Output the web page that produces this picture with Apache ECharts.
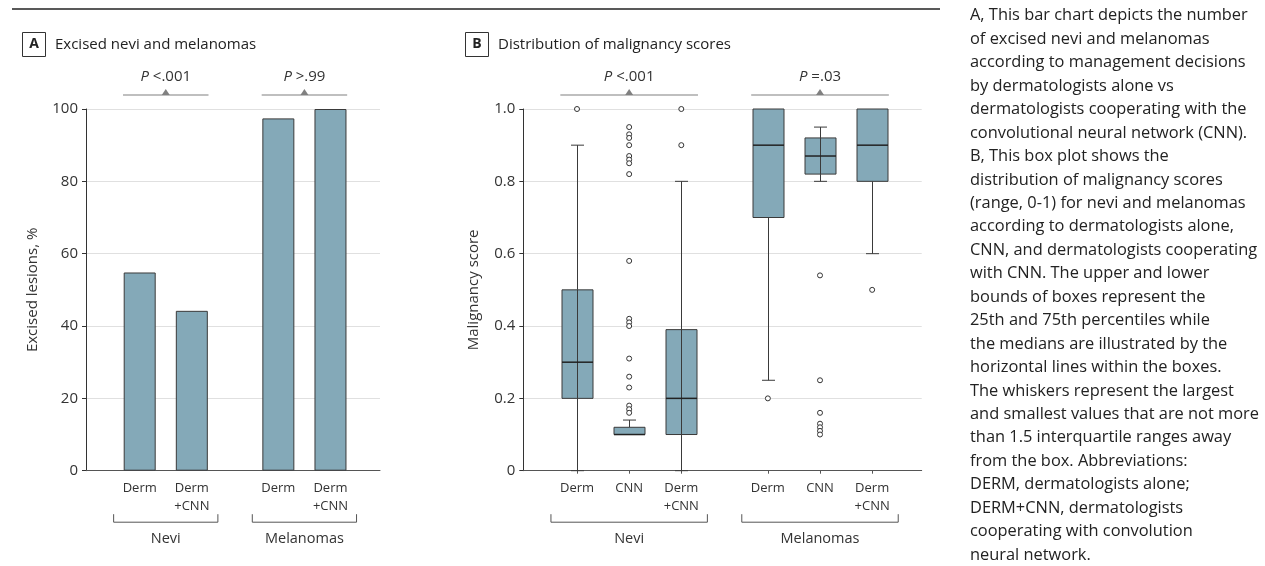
<!DOCTYPE html>
<html lang="en">
<head>
  <meta charset="UTF-8">
  <title>Excised nevi and melanomas</title>
  <script src="https://cdn.jsdelivr.net/npm/echarts@6.0.0/dist/echarts.min.js"></script>
  <style>
    html, body {
      margin: 0;
      padding: 0;
      background: #fff;
    }

    #main {
      width: 1265px;
      height: 566px;
    }
  </style>
</head>
<body>
  <div id="main"></div>

  <script type="text/javascript">
    // ---- data ----
    var groups = ['Nevi', 'Melanomas'];
    var barCategories = ['Derm', 'Derm\n+CNN'];
    var boxCategories = ['Derm', 'CNN', 'Derm\n+CNN'];

    // panel A: excised lesions, %
    var excisedNevi = [54.8, 44.2];
    var excisedMelanomas = [97.4, 100];

    // panel B: [min, Q1, median, Q3, max]
    var neviBoxes = [
      [0, 0.2, 0.3, 0.5, 0.9],
      [0.1, 0.1, 0.1, 0.12, 0.14],
      [0, 0.1, 0.2, 0.39, 0.8]
    ];
    var melanomaBoxes = [
      [0.25, 0.7, 0.9, 1.0, 1.0],
      [0.8, 0.82, 0.87, 0.92, 0.95],
      [0.6, 0.8, 0.9, 1.0, 1.0]
    ];
    var neviOutliers = [
      [1.0],
      [0.95, 0.93, 0.92, 0.90, 0.87, 0.86, 0.85, 0.82, 0.58, 0.42, 0.41, 0.40, 0.31, 0.26, 0.23, 0.18, 0.17, 0.16],
      [1.0, 0.9]
    ];
    var melanomaOutliers = [
      [0.2],
      [0.54, 0.25, 0.16, 0.13, 0.12, 0.11, 0.10],
      [0.5]
    ];

    var pValuesA = ['<.001', '>.99'];
    var pValuesB = ['<.001', '=.03'];

    var captionLines = [
      'A, This bar chart depicts the number',
      'of excised nevi and melanomas',
      'according to management decisions',
      'by dermatologists alone vs',
      'dermatologists cooperating with the',
      'convolutional neural network (CNN).',
      'B, This box plot shows the',
      'distribution of malignancy scores',
      '(range, 0-1) for nevi and melanomas',
      'according to dermatologists alone,',
      'CNN, and dermatologists cooperating',
      'with CNN. The upper and lower',
      'bounds of boxes represent the',
      '25th and 75th percentiles while',
      'the medians are illustrated by the',
      'horizontal lines within the boxes.',
      'The whiskers represent the largest',
      'and smallest values that are not more',
      'than 1.5 interquartile ranges away',
      'from the box. Abbreviations:',
      'DERM, dermatologists alone;',
      'DERM+CNN, dermatologists',
      'cooperating with convolution',
      'neural network.'
    ];

    // ---- layout / style ----
    var FONT = '"Open Sans", "Noto Sans", sans-serif';
    var FILL = '#84a9b8';
    var EDGE = '#3a3a3a';
    var TEXT = '#333';
    var GROUP_GAP = 1.66;   // extra space between groups, in category steps
    var BOX_W = 31;
    var CAP_W = 13;

    // x position of category i in group g
    function slot(g, i, n) {
      return g * (n - 1 + GROUP_GAP) + i;
    }

    function positions(n) {
      var out = [];
      groups.forEach(function (_, g) {
        for (var i = 0; i < n; i++) out.push(slot(g, i, n));
      });
      return out;
    }

    var posA = positions(barCategories.length);
    var posB = positions(boxCategories.length);
    var labelsA = barCategories.concat(barCategories);
    var labelsB = boxCategories.concat(boxCategories);

    function labelFor(pos, labels) {
      return function (v) {
        for (var k = 0; k < pos.length; k++) {
          if (Math.abs(pos[k] - v) < 1e-6) return labels[k];
        }
        return '';
      };
    }

    function groupSpans(n) {
      return groups.map(function (_, g) {
        return [slot(g, 0, n), slot(g, n - 1, n), 0];
      });
    }

    // ---- series data built from the arrays ----
    var barData = [];
    [excisedNevi, excisedMelanomas].forEach(function (vals, g) {
      vals.forEach(function (v, i) {
        barData.push([slot(g, i, barCategories.length), v]);
      });
    });

    var boxData = [];
    var outlierData = [];
    [neviBoxes, melanomaBoxes].forEach(function (boxes, g) {
      boxes.forEach(function (b, i) {
        boxData.push([slot(g, i, boxCategories.length)].concat(b));
      });
    });
    [neviOutliers, melanomaOutliers].forEach(function (lists, g) {
      lists.forEach(function (list, i) {
        list.forEach(function (v) {
          outlierData.push([slot(g, i, boxCategories.length), v]);
        });
      });
    });

    function renderBox(params, api) {
      var x = api.value(0);
      var lo = api.coord([x, api.value(1)]);
      var q1 = api.coord([x, api.value(2)]);
      var md = api.coord([x, api.value(3)]);
      var q3 = api.coord([x, api.value(4)]);
      var hi = api.coord([x, api.value(5)]);
      var cx = Math.round(lo[0]) + 0.5;
      var h = BOX_W / 2, c = CAP_W / 2;
      var lineStyle = { stroke: EDGE, lineWidth: 1 };
      var hasLo = api.value(1) < api.value(2);
      var hasHi = api.value(5) > api.value(4);
      var kids = [];

      if (hasLo) {
        kids.push({ type: 'line', shape: { x1: cx, y1: q1[1], x2: cx, y2: lo[1] }, style: lineStyle });
        kids.push({ type: 'line', shape: { x1: cx - c, y1: lo[1], x2: cx + c, y2: lo[1] }, style: lineStyle });
      }
      if (hasHi) {
        kids.push({ type: 'line', shape: { x1: cx, y1: q3[1], x2: cx, y2: hi[1] }, style: lineStyle });
        kids.push({ type: 'line', shape: { x1: cx - c, y1: hi[1], x2: cx + c, y2: hi[1] }, style: lineStyle });
      }
      kids.push({
        type: 'rect',
        shape: { x: cx - h, y: q3[1], width: BOX_W, height: q1[1] - q3[1] },
        style: { fill: FILL, stroke: EDGE, lineWidth: 1 }
      });
      if (hasLo && hasHi) {
        kids.push({ type: 'line', shape: { x1: cx, y1: q3[1], x2: cx, y2: q1[1] }, style: lineStyle });
      }
      kids.push({
        type: 'line',
        shape: { x1: cx - h, y1: md[1], x2: cx + h, y2: md[1] },
        style: { stroke: '#222', lineWidth: 1.5 }
      });
      return { type: 'group', children: kids };
    }

    // P value marker above each group
    function pValueRenderer(texts) {
      return function (params, api) {
        var a = api.coord([api.value(0) - 0.32, 0])[0];
        var b = api.coord([api.value(1) + 0.32, 0])[0];
        var mid = (a + b) / 2;
        var lineY = params.coordSys.y - 14;
        return {
          type: 'group',
          children: [
            { type: 'line', shape: { x1: a, y1: lineY, x2: b, y2: lineY }, style: { stroke: '#808080', lineWidth: 1.2 } },
            { type: 'polygon', shape: { points: [[mid - 4, lineY], [mid + 4, lineY], [mid, lineY - 6]] }, style: { fill: '#808080' } },
            {
              type: 'text',
              x: mid,
              y: lineY - 18,
              style: {
                text: '{i|P} ' + texts[params.dataIndex],
                align: 'center',
                verticalAlign: 'middle',
                fontSize: 15,
                fontFamily: FONT,
                fill: TEXT,
                rich: { i: { fontStyle: 'italic', fontSize: 15, fontFamily: FONT, fill: TEXT } }
              }
            }
          ]
        };
      };
    }

    // bracket + group name under the x labels
    function renderBracket(params, api) {
      var a = api.coord([api.value(0) - 0.5, 0])[0];
      var b = api.coord([api.value(1) + 0.5, 0])[0];
      var y = params.coordSys.y + params.coordSys.height + 51.5;
      return {
        type: 'group',
        children: [
          {
            type: 'polyline',
            shape: { points: [[a, y - 8], [a, y], [b, y], [b, y - 8]] },
            style: { stroke: '#555', lineWidth: 1, fill: null }
          },
          {
            type: 'text',
            x: (a + b) / 2,
            y: y + 16.5,
            style: {
              text: groups[params.dataIndex],
              align: 'center',
              verticalAlign: 'middle',
              fontSize: 14.5,
              fontFamily: FONT,
              fill: TEXT
            }
          }
        ]
      };
    }

    function xAxis(gridIndex, pos, labels, showTicks) {
      return {
        type: 'value',
        gridIndex: gridIndex,
        min: -1.03,
        max: pos[pos.length - 1] + 0.95,
        splitLine: { show: false },
        axisLine: { show: true, onZero: false, lineStyle: { color: '#555', width: 1 } },
        axisTick: { show: showTicks, customValues: pos, length: 3, lineStyle: { color: '#555' } },
        axisLabel: {
          customValues: pos,
          formatter: labelFor(pos, labels),
          margin: 8,
          fontSize: 13,
          lineHeight: 18.5,
          color: TEXT,
          fontFamily: FONT
        }
      };
    }

    function yAxis(gridIndex, max, interval, name, gap, fmt) {
      return {
        type: 'value',
        gridIndex: gridIndex,
        min: 0,
        max: max,
        interval: interval,
        name: name,
        nameLocation: 'middle',
        nameGap: gap,
        nameTextStyle: { fontSize: 15, color: TEXT, fontFamily: FONT },
        axisLine: { show: true, onZero: false, lineStyle: { color: '#333', width: 1 } },
        axisTick: { show: true, length: 4, lineStyle: { color: '#333' } },
        axisLabel: { fontSize: 15, color: TEXT, fontFamily: FONT, margin: 8, formatter: fmt },
        splitLine: { show: true, lineStyle: { color: '#e0e0e0', width: 1.2 } }
      };
    }

    function panelLabel(letter, x, title) {
      return {
        type: 'group',
        children: [
          { type: 'rect', shape: { x: x + 0.5, y: 32.5, width: 23, height: 24 }, style: { fill: null, stroke: '#333', lineWidth: 1 } },
          { type: 'text', x: x + 12, y: 44.5, style: { text: letter, align: 'center', verticalAlign: 'middle', fontSize: 14, fontWeight: 'bold', fontFamily: FONT, fill: '#222' } },
          { type: 'text', x: x + 33, y: 44.5, style: { text: title, verticalAlign: 'middle', fontSize: 15, fontFamily: FONT, fill: '#222' } }
        ]
      };
    }

    var myChart = echarts.init(document.getElementById('main'));

    var option = {
      animation: false,
      textStyle: { fontFamily: FONT },
      grid: [
        { left: 86, top: 109, width: 294, height: 361.7 },
        { left: 523.3, top: 109, width: 398.4, height: 361.7 }
      ],
      xAxis: [
        xAxis(0, posA, labelsA, false),
        xAxis(1, posB, labelsB, true)
      ],
      yAxis: [
        yAxis(0, 100, 20, 'Excised lesions, %', 46),
        yAxis(1, 1, 0.2, 'Malignancy score', 42, function (v) {
          return v === 0 ? '0' : v.toFixed(1);
        })
      ],
      graphic: [
        { type: 'line', shape: { x1: 12, y1: 9, x2: 940, y2: 9 }, style: { stroke: '#222', lineWidth: 1.5 } },
        panelLabel('A', 22, 'Excised nevi and melanomas'),
        panelLabel('B', 465, 'Distribution of malignancy scores'),
        {
          type: 'text',
          left: 970,
          top: 4,
          style: {
            text: captionLines.join('\n'),
            fontSize: 16.4,
            lineHeight: 23.45,
            fontFamily: FONT,
            fill: '#222'
          }
        }
      ],
      series: [
        {
          name: 'Excised lesions',
          type: 'bar',
          xAxisIndex: 0,
          yAxisIndex: 0,
          barWidth: 32,
          data: barData,
          itemStyle: { color: FILL, borderColor: EDGE, borderWidth: 1 }
        },
        {
          name: 'Malignancy score',
          type: 'custom',
          xAxisIndex: 1,
          yAxisIndex: 1,
          encode: { x: 0, y: [1, 2, 3, 4, 5] },
          renderItem: renderBox,
          data: boxData,
          z: 2
        },
        {
          name: 'Outliers',
          type: 'scatter',
          xAxisIndex: 1,
          yAxisIndex: 1,
          symbol: 'circle',
          symbolSize: 5,
          data: outlierData,
          itemStyle: { color: '#fff', borderColor: '#333', borderWidth: 1, opacity: 1 },
          z: 3
        },
        {
          type: 'custom',
          xAxisIndex: 0,
          yAxisIndex: 0,
          clip: false,
          encode: { x: [0, 1], y: 2 },
          renderItem: pValueRenderer(pValuesA),
          data: groupSpans(barCategories.length)
        },
        {
          type: 'custom',
          xAxisIndex: 1,
          yAxisIndex: 1,
          clip: false,
          encode: { x: [0, 1], y: 2 },
          renderItem: pValueRenderer(pValuesB),
          data: groupSpans(boxCategories.length)
        },
        {
          type: 'custom',
          xAxisIndex: 0,
          yAxisIndex: 0,
          clip: false,
          encode: { x: [0, 1], y: 2 },
          renderItem: renderBracket,
          data: groupSpans(barCategories.length)
        },
        {
          type: 'custom',
          xAxisIndex: 1,
          yAxisIndex: 1,
          clip: false,
          encode: { x: [0, 1], y: 2 },
          renderItem: renderBracket,
          data: groupSpans(boxCategories.length)
        }
      ]
    };

    myChart.setOption(option);
  </script>
</body>
</html>
